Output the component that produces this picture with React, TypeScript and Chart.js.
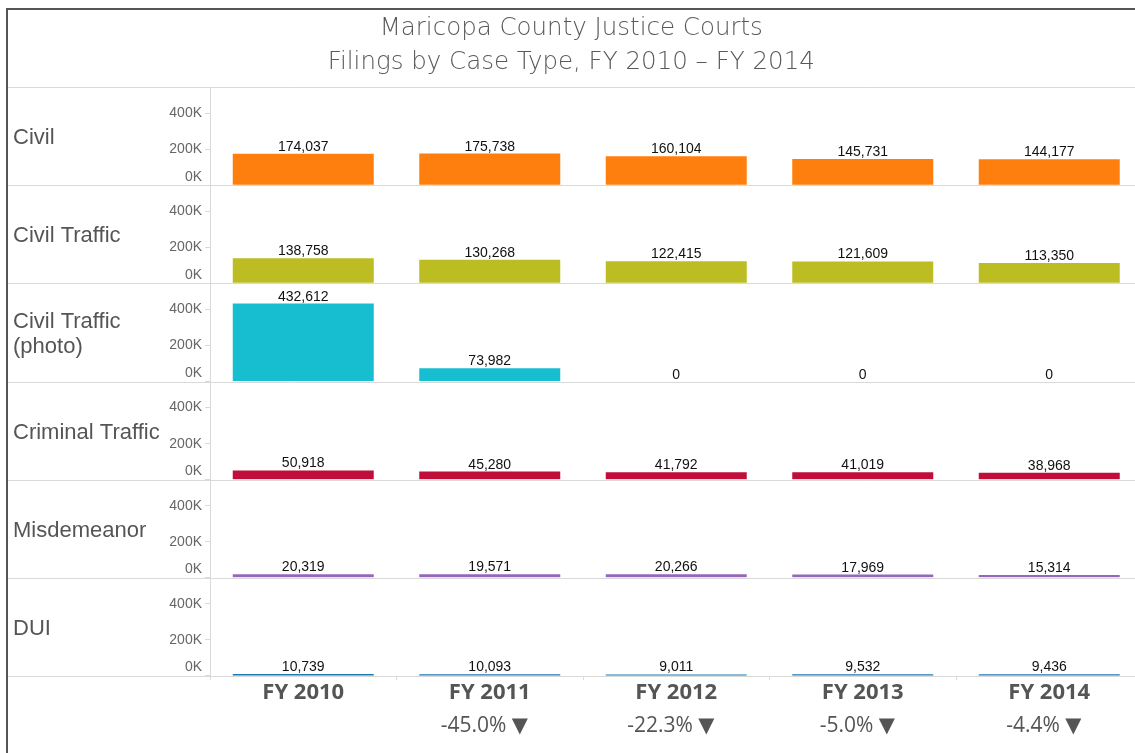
import React, { useEffect, useRef } from 'react';
import { Chart, registerables } from 'chart.js';

Chart.register(...registerables);

const years = ['FY 2010', 'FY 2011', 'FY 2012', 'FY 2013', 'FY 2014'];
const rowLabels = [['Civil'], ['Civil Traffic'], ['Civil Traffic', '(photo)'], ['Criminal Traffic'], ['Misdemeanor'], ['DUI']];
const civil = [174037, 175738, 160104, 145731, 144177];
const civilTraffic = [138758, 130268, 122415, 121609, 113350];
const civilTrafficPhoto = [432612, 73982, 0, 0, 0];
const criminalTraffic = [50918, 45280, 41792, 41019, 38968];
const misdemeanor = [20319, 19571, 20266, 17969, 15314];
const dui = [10739, 10093, 9011, 9532, 9436];
const totalChangePct = [null, -45.0, -22.3, -5.0, -4.4];
const yTicks = [0, 200000, 400000];
const yMax = 545000;
const rowSeries = [civil, civilTraffic, civilTrafficPhoto, criminalTraffic, misdemeanor, dui];
const rowColors = ['#ff7f0e', '#bcbd22', '#17becf', '#c10d39', '#9467bd', '#1f77b4'];

const CANVAS_W = 1150;
const CANVAS_H = 753;

export default function App() {
  const ref = useRef<HTMLCanvasElement | null>(null);

  useEffect(() => {
    document.body.style.margin = '0';
    const canvas = ref.current;
    if (!canvas) return;

    const pctLabels = totalChangePct.map((p) => (p === null ? '' : `${p.toFixed(1)}% ▼  `));

    const yScale = (i: number) => ({
      type: 'linear',
      position: 'left',
      stack: 'rows',
      stackWeight: 1,
      weight: 10 - i,
      offset: false,
      min: 0,
      max: yMax,
      afterBuildTicks: (s: any) => {
        s.ticks = yTicks.map((v) => ({ value: v }));
      },
      afterFit: (s: any) => {
        s.width = 210;
      },
      ticks: {
        callback: (v: any) => (v === 0 ? ['0K', ''] : `${v / 1000}K`),
        font: { family: '"Liberation Sans", Arial, sans-serif', size: 14 },
        color: '#666',
        padding: 3,
        autoSkip: false,
      },
      grid: { drawOnChartArea: false, drawTicks: true, tickLength: 5, color: '#d9d9d9' },
      border: { display: true, color: '#d9d9d9' },
    });

    const scales: any = {};
    rowSeries.forEach((_, i) => {
      scales['y' + i] = yScale(i);
    });
    scales.x = {
      type: 'category',
      position: 'bottom',
      offset: true,
      grid: { offset: true, drawOnChartArea: false, drawTicks: true, tickLength: 4, color: '#d9d9d9' },
      border: { display: false },
      ticks: {
        font: { family: '"Open Sans", "DejaVu Sans", sans-serif', size: 22, weight: 'bold', lineHeight: 1.1 },
        color: '#555',
        padding: 1,
        maxRotation: 0,
        autoSkip: false,
      },
      afterFit: (s: any) => {
        s.height = 33;
      },
    };
    scales.x2 = {
      type: 'category',
      position: 'bottom',
      labels: pctLabels,
      offset: true,
      grid: { display: false, drawTicks: false },
      border: { display: false },
      ticks: {
        font: { family: '"Open Sans", "DejaVu Sans", sans-serif', size: 21 },
        color: '#555',
        padding: 4,
        maxRotation: 0,
        autoSkip: false,
      },
      afterFit: (s: any) => {
        s.height = 36;
      },
    };

    const rowPlugin = {
      id: 'rowDecor',
      beforeDatasetsDraw(chart: any) {
        const ctx = chart.ctx;
        ctx.save();
        ctx.strokeStyle = '#d9d9d9';
        ctx.lineWidth = 1;
        rowSeries.forEach((_, i) => {
          const s = chart.scales['y' + i];
          const lines = [Math.round(s.getPixelForValue(0)) + 0.5];
          if (i === 0) lines.push(Math.round(s.top) + 0.5);
          lines.forEach((y) => {
            ctx.beginPath();
            ctx.moveTo(8, y);
            ctx.lineTo(chart.width, y);
            ctx.stroke();
          });
          const mid = (s.top + s.bottom) / 2 + 2;
          ctx.fillStyle = '#555';
          ctx.font = '22px "Liberation Sans", Arial, sans-serif';
          ctx.textAlign = 'left';
          ctx.textBaseline = 'middle';
          const n = rowLabels[i].length;
          rowLabels[i].forEach((t, k) => {
            ctx.fillText(t, 13, mid + (k - (n - 1) / 2) * 25);
          });
        });
        ctx.restore();
      },
      afterDatasetsDraw(chart: any) {
        const ctx = chart.ctx;
        ctx.save();
        ctx.fillStyle = '#111';
        ctx.font = '14px "Liberation Sans", Arial, sans-serif';
        ctx.textAlign = 'center';
        ctx.textBaseline = 'alphabetic';
        chart.data.datasets.forEach((ds: any, i: number) => {
          const meta = chart.getDatasetMeta(i);
          meta.data.forEach((bar: any, j: number) => {
            const v = ds.data[j];
            ctx.fillText(Number(v).toLocaleString('en-US'), bar.x, bar.y - 3);
          });
        });
        ctx.restore();
      },
    };

    const chart = new Chart(canvas, {
      type: 'bar',
      data: {
        labels: years,
        datasets: rowSeries.map((d, i) => ({
          label: rowLabels[i].join(' '),
          data: d,
          backgroundColor: rowColors[i],
          yAxisID: 'y' + i,
          xAxisID: 'x',
          grouped: false,
          barPercentage: 0.756,
          categoryPercentage: 1,
        })),
      },
      options: {
        responsive: false,
        maintainAspectRatio: false,
        animation: false,
        layout: { padding: { left: 0, right: CANVAS_W - 1142.5, top: 0, bottom: CANVAS_H - 676 - 33 - 36 } },
        plugins: {
          legend: { display: false },
          tooltip: { enabled: false },
          title: {
            display: true,
            text: ['Maricopa County Justice Courts', 'Filings by Case Type, FY 2010 – FY 2014'],
            color: '#595959',
            font: { family: '"DejaVu Sans", sans-serif', size: 24.5, weight: '200', lineHeight: 33.6 / 24.5 },
            padding: { top: 12, bottom: 7.8 },
          },
        },
        scales,
      } as any,
      plugins: [rowPlugin],
    });

    return () => chart.destroy();
  }, []);

  return (
    <div style={{ position: 'relative', width: 1135, height: 753, overflow: 'hidden', background: '#fff' }}>
      <canvas
        ref={ref}
        width={CANVAS_W}
        height={CANVAS_H}
        style={{ position: 'absolute', left: 0, top: 0, width: CANVAS_W, height: CANVAS_H }}
      />
      <div
        style={{
          position: 'absolute',
          left: 6,
          top: 8,
          right: -10,
          bottom: -10,
          borderTop: '2px solid #555',
          borderLeft: '2px solid #555',
          pointerEvents: 'none',
        }}
      />
    </div>
  );
}
